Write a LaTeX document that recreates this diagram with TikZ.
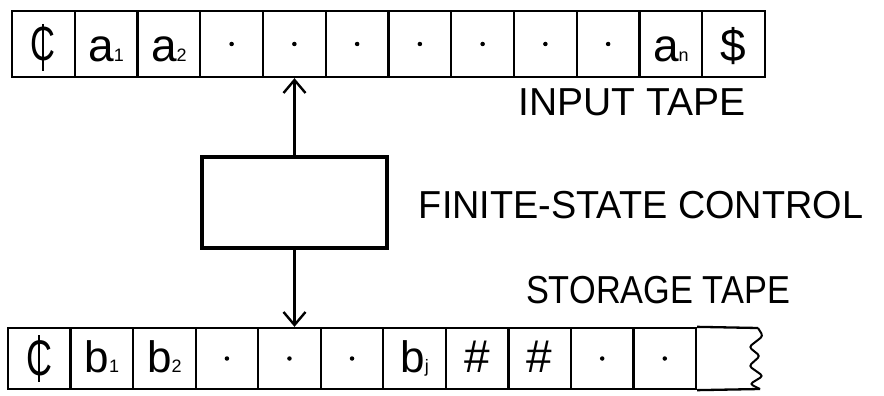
\documentclass[tikz,border=0pt]{standalone}
\usepackage{fontspec}
\setmainfont{Liberation Sans}
\usetikzlibrary{arrows.meta}
\begin{document}
\begin{tikzpicture}[x=1pt,y=-1pt,
  cellbox/.style={draw=black,line width=2.3pt,minimum height=66pt,minimum width=62.75pt,inner sep=0pt,anchor=center},
  scell/.style={draw=black,line width=2.3pt,minimum height=61pt,minimum width=62.55pt,inner sep=0pt,anchor=center},
  sym/.style={inner sep=0pt,anchor=base},
  dotmark/.style={circle,fill=black,inner sep=0pt,minimum size=4.5pt},
  lbl/.style={inner sep=0pt,font=\fontsize{39}{39}\selectfont},
  ctrl/.style={draw=black,line width=3.2pt,minimum width=185pt,minimum height=91pt,inner sep=0pt},
  arr/.style={line width=2.4pt,-{Straight Barb[length=13pt,width=22pt,line width=2.4pt]}}]
\useasboundingbox (0,0) rectangle (884,396);
\newcommand{\bigsym}[2]{\fontsize{#1}{#1}\selectfont #2}
\newcommand{\subsym}[3]{\fontsize{#1}{#1}\selectfont #2{\fontsize{18}{18}\selectfont #3}}
% input tape
\foreach \i in {1,...,12} {
  \node[cellbox] (t\i) at ({12+62.75*(\i-0.5)},44) {};
}
\node[sym] (tc) at (43,61) {\bigsym{48}{\scalebox{0.72}[1]{C}}};
\draw[line width=2pt] (43,24) -- (43,71);
\node[sym] (ta1) at (t2.center |- 0,62) {\subsym{46}{a}{1}};
\node[sym] (ta2) at (t3.center |- 0,62) {\subsym{46}{a}{2}};
\foreach \i in {4,...,10} { \node[dotmark] (td\i) at (t\i.center) {}; }
\node[sym] (tan) at (t11.center |- 0,62) {\subsym{46}{a}{n}};
\node[sym] (tdol) at (t12.center |- 0,62) {\bigsym{46}{\$}};
% storage tape
\foreach \i in {1,...,11} {
  \node[scell] (s\i) at ({8+62.55*(\i-0.5)},358.5) {};
}
\coordinate (wtop) at (758,328);
\coordinate (wbot) at (760,389);
\draw[line width=2.3pt] (s11.north east) -- (wtop);
\draw[line width=2.3pt] (s11.south east) -- (wbot);
\draw[line width=2pt,rounded corners=3pt] (wtop) -- (763,336) -- (749,347) -- (760,356) -- (749,366) -- (763,376) -- (750,384) -- (wbot);
\node[sym] (sc) at (s1.center |- 0,375) {\bigsym{50}{\scalebox{0.72}[1]{C}}};
\draw[line width=2pt] (s1.center |- 0,335) -- (s1.center |- 0,382);
\node[sym] (sb1) at (s2.center |- 0,372) {\subsym{44}{b}{1}};
\node[sym] (sb2) at (s3.center |- 0,372) {\subsym{44}{b}{2}};
\foreach \i in {4,5,6,10,11} { \node[dotmark] (sd\i) at (s\i.center) {}; }
\node[sym] (sbj) at (s7.center |- 0,372) {\subsym{44}{b}{j}};
\node[sym] (sh1) at (s8.center |- 0,372) {\bigsym{46}{\#}};
\node[sym] (sh2) at (s9.center |- 0,372) {\bigsym{46}{\#}};
% control
\node[ctrl] (fsc) at (294.5,202.5) {};
\draw[arr] (fsc.north) -- (fsc.north |- t5.south);
\draw[arr] (fsc.south) -- (fsc.south |- s5.north);
% labels
\node[lbl] (lin) at (632,102) {INPUT TAPE};
\node[lbl] (lfsc) at (641,205) {\scalebox{0.97}[1]{FINITE-STATE CONTROL}};
\node[lbl] (lst) at (658,290) {\scalebox{0.88}[1]{STORAGE TAPE}};
\end{tikzpicture}
\end{document}
